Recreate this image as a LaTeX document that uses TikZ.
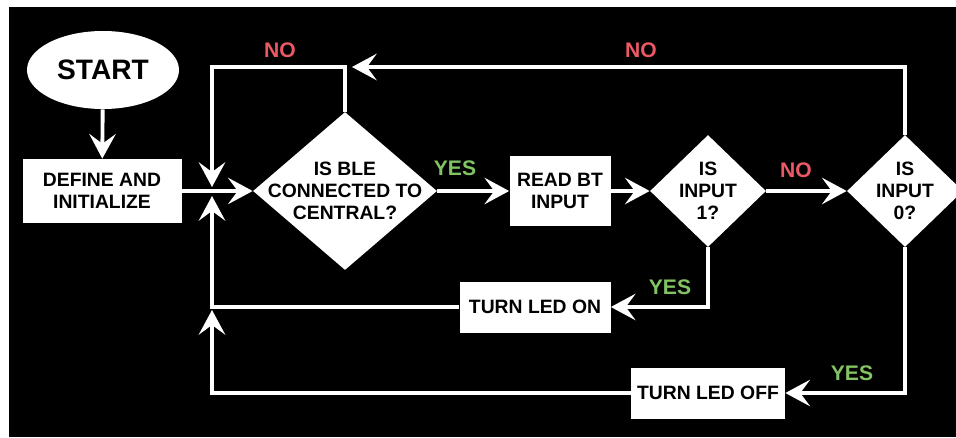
\documentclass[tikz,border=0pt]{standalone}
\usepackage{fontspec}
\setmainfont{Liberation Sans}
\usetikzlibrary{shapes.geometric,arrows.meta}

\definecolor{nored}{RGB}{235,90,100}
\definecolor{yesgreen}{RGB}{130,195,100}

\begin{document}
\begin{tikzpicture}[
    box/.style={fill=white, text=black, align=center, inner sep=0pt,
      font=\bfseries\fontsize{11}{12.4}\selectfont},
    decision/.style={diamond, fill=white, inner sep=0pt},
    qtext/.style={text=black, align=center, inner sep=0pt,
      font=\bfseries\fontsize{11}{12.4}\selectfont},
    flow/.style={white, line width=2.2pt,
      -{Stealth[length=14pt, width=15pt, inset=5.5pt]}},
    no/.style={text=nored, font=\bfseries\fontsize{12}{14}\selectfont},
    yes/.style={text=yesgreen, font=\bfseries\fontsize{12}{14}\selectfont}
  ]
    \clip (0,0) rectangle (19.12,8.74);
    \fill[white] (0,0) rectangle (19.12,8.74);
    \fill[black] (0.18,0) rectangle (19.12,8.6);

    % blocks
    \node[box, ellipse, minimum width=3.04cm, minimum height=1.56cm,
      font=\bfseries\fontsize{16}{18}\selectfont] (start) at (2.06,7.34) {START};
    \node[box, minimum width=3.18cm, minimum height=1.28cm] (init) at (2.04,4.92) {DEFINE AND\\INITIALIZE};
    \node[decision, minimum width=3.68cm, minimum height=3.16cm] (ble) at (6.9,4.92) {};
    \node[qtext] (bletext) at (ble) {IS BLE\\CONNECTED TO\\CENTRAL?};
    \node[box, minimum width=2.02cm, minimum height=1.4cm] (read) at (11.2,4.92) {READ BT\\INPUT};
    \node[decision, minimum width=2.32cm, minimum height=2.24cm] (one) at (14.16,4.92) {};
    \node[qtext] (onetext) at (one) {IS\\INPUT\\1?};
    \node[decision, minimum width=2.32cm, minimum height=2.24cm] (zero) at (18.1,4.92) {};
    \node[qtext] (zerotext) at (zero) {IS\\INPUT\\0?};
    \node[box, minimum width=3.02cm, minimum height=1.02cm] (on) at (10.7,2.6) {TURN LED ON};
    \node[box, minimum width=3.08cm, minimum height=1.02cm] (off) at (14.16,0.88) {TURN LED OFF};

    % corners of the loops
    \coordinate (merge) at (4.24,4.92);
    \coordinate (blecorner) at (6.9,7.4);
    \coordinate (oncorner) at (on.west -| merge);

    % connectors
    \draw[flow] (start) -- (init);
    \draw[flow] (init) -- (ble);
    \draw[flow] (ble) -- (read);
    \draw[flow] (read) -- (one);
    \draw[flow] (one) -- (zero);
    \draw[flow] (ble.north) -- (blecorner) -| ([yshift=0.08cm]merge);
    \draw[flow] (zero.north) |- ([xshift=0.14cm]blecorner);
    \draw[flow] (one.south) |- (on.east);
    \draw[flow] (zero.south) |- (off.east);
    \draw[flow] (on.west) -| ([yshift=-0.1cm]merge);
    \draw[flow] (off.west) -| ([yshift=-0.06cm]oncorner);

    % answers
    \node[no] (no1) at (5.6,7.74) {NO};
    \node[no] (no2) at (12.82,7.74) {NO};
    \node[no] (no3) at (15.92,5.34) {NO};
    \node[yes] (yes1) at (9.1,5.38) {YES};
    \node[yes] (yes2) at (13.4,3.0) {YES};
    \node[yes] (yes3) at (17.04,1.28) {YES};
  \end{tikzpicture}
\end{document}
